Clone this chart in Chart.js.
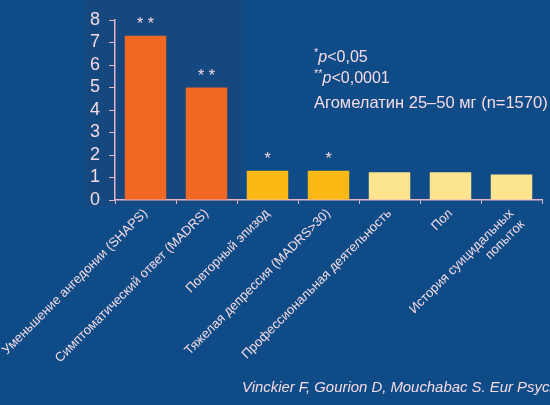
<!DOCTYPE html>
<html>
<head>
<meta charset="utf-8">
<script src="https://cdn.jsdelivr.net/npm/chart.js@4.4.1/dist/chart.umd.min.js"></script>
<style>
  html, body { margin:0; padding:0; background:#0f4b87; }
  #wrap { position:relative; width:550px; height:405px; overflow:hidden; font-family:'Liberation Sans', Arial, sans-serif; color:#f4dbe4; }
  #shade { position:absolute; left:85px; top:0; width:157px; height:205px; background:#15487f; }
  canvas { position:absolute; left:0; top:0; }
  .note { position:absolute; left:314px; font-size:16px; white-space:nowrap; }
  .cite { position:absolute; left:242px; top:379px; font-size:14.9px; font-style:italic; white-space:nowrap; }
</style>
</head>
<body>
<div id="wrap">
  <div id="shade"></div>
  <canvas id="c" width="550" height="405"></canvas>
  <div class="note" style="top:46px"><sup style="font-size:11px">*</sup><i>p</i>&lt;0,05</div>
  <div class="note" style="top:67px"><sup style="font-size:11px">**</sup><i>p</i>&lt;0,0001</div>
  <div class="note" style="top:93px;font-size:16.5px">Агомелатин 25–50 мг (n=1570)</div>
  <div class="cite">Vinckier F, Gourion D, Mouchabac S. Eur Psychiatry</div>
</div>
<script>
const categories = [
  'Уменьшение ангедонии (SHAPS)',
  'Симптоматический ответ (MADRS)',
  'Повторный эпизод',
  'Тяжелая депрессия (MADRS>30)',
  'Профессиональная деятельность',
  'Пол',
  ['История суицидальных', 'попыток']
];
const values = [7.3, 5.0, 1.3, 1.3, 1.23, 1.23, 1.13];
const marks = ['**', '**', '*', '*', '', '', ''];
const barColors = ['#f26722', '#f26722', '#fdb913', '#fdb913', '#fde48f', '#fde48f', '#fde48f'];
const yTicks = [0, 1, 2, 3, 4, 5, 6, 7, 8];

const TXT = '#f4dbe4';
const AXIS = '#e6b6c8';

const starPlugin = {
  id: 'stars',
  afterDatasetsDraw(chart) {
    const ctx = chart.ctx;
    const meta = chart.getDatasetMeta(0);
    ctx.save();
    ctx.fillStyle = TXT;
    ctx.font = '16px "Liberation Sans", Arial, sans-serif';
    ctx.textAlign = 'center';
    ctx.textBaseline = 'middle';
    meta.data.forEach((bar, i) => {
      if (marks[i]) ctx.fillText(marks[i].split('').join(' '), bar.x, bar.y - 11);
    });
    ctx.restore();
  }
};

new Chart(document.getElementById('c'), {
  type: 'bar',
  data: {
    labels: categories,
    datasets: [{ data: values, backgroundColor: barColors, borderWidth: 0, categoryPercentage: 0.68, barPercentage: 1 }]
  },
  options: {
    responsive: false,
    animation: false,
    layout: { padding: { top: 20, right: 8, left: 0, bottom: 0 } },
    plugins: { legend: { display: false }, tooltip: { enabled: false } },
    scales: {
      x: {
        grid: { drawOnChartArea: false, color: AXIS, tickLength: 4, offset: true },
        border: { color: AXIS, width: 1.5 },
        ticks: { color: TXT, maxRotation: 45, minRotation: 45, autoSkip: false, padding: 2,
          font: { family: '"Liberation Sans", Arial, sans-serif', size: 13 } },
        afterFit: s => { s.height = 205; s.paddingLeft = 0; s.paddingRight = 0; }
      },
      y: {
        min: 0, max: 8,
        afterBuildTicks: s => { s.ticks = yTicks.map(v => ({ value: v })); },
        grid: { drawOnChartArea: false, color: AXIS, tickLength: 6 },
        border: { color: AXIS, width: 1.5 },
        ticks: { color: TXT, padding: 9, stepSize: 1, autoSkip: false,
          font: { family: '"Liberation Sans", Arial, sans-serif', size: 18 } },
        afterFit: s => { s.width = 115; }
      }
    }
  },
  plugins: [starPlugin]
});
</script>
</body>
</html>
